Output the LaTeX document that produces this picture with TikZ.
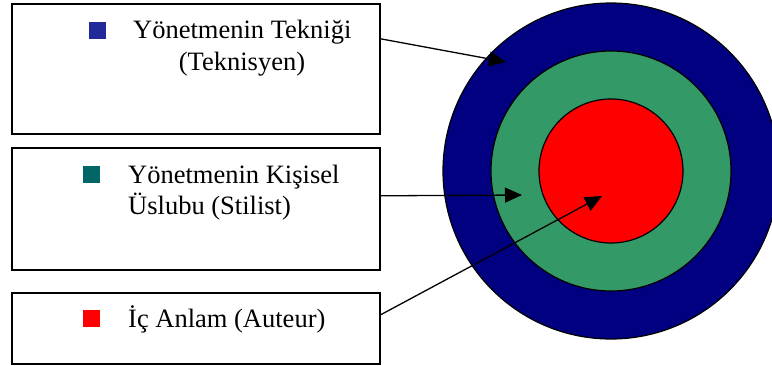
\documentclass[tikz,border=0pt]{standalone}
\usepackage{fontspec}
\setmainfont{Liberation Serif}
\usetikzlibrary{arrows.meta}
\definecolor{ringblue}{HTML}{000080}
\definecolor{ringgreen}{HTML}{339966}
\definecolor{ringred}{HTML}{FF0000}
\definecolor{mkblue}{HTML}{222A99}
\definecolor{mkteal}{HTML}{006666}
\definecolor{mkred}{HTML}{FF0000}
\tikzset{
  box/.style={draw, line width=1.6pt, minimum width=368pt, inner sep=0pt, anchor=north west},
  ring/.style={draw, line width=1.2pt, circle, inner sep=0pt},
  marker/.style={minimum size=17pt, inner sep=0pt, anchor=north west},
  lbl/.style={inner sep=0pt, anchor=base west, font=\fontsize{26.5}{31}\selectfont},
  conn/.style={line width=1.3pt, -{Triangle[length=17pt,width=15pt]}},
}
\begin{document}
\begin{tikzpicture}[x=1pt,y=-1pt]
\useasboundingbox (0,0) rectangle (772,365);
% rings
\node[ring, fill=ringblue, minimum size=336pt] (outer) at (611,171) {};
\node[ring, fill=ringgreen, minimum size=240pt] (middle) at (611,171) {};
\node[ring, fill=ringred, minimum size=144pt] (inner) at (611,171) {};
% boxes
\node[box, minimum height=130pt] (b1) at (11,3) {};
\node[box, minimum height=122pt] (b2) at (11,147) {};
\node[box, minimum height=71pt] (b3) at (11,292) {};
% markers
\node[marker, fill=mkblue] (m1) at (89,22) {};
\node[marker, fill=mkteal] (m2) at (83,166) {};
\node[marker, fill=mkred] (m3) at (83,310) {};
% labels
\node[lbl] (t1a) at (133,38) {Yönetmenin Tekniği};
\node[lbl, anchor=base] (t1b) at (242,70) {(Teknisyen)};
\node[lbl] (t2a) at (128,183) {Yönetmenin Kişisel};
\node[lbl] (t2b) at (128,214) {Üslubu (Stilist)};
\node[lbl] (t3) at (128,327) {İç Anlam (Auteur)};
% arrow tips
\coordinate (p1) at (506,62);
\coordinate (p2) at (522,195);
\coordinate (p3) at (602,196);
% connectors
\draw[conn] ([yshift=30pt]b1.east) -- (p1);
\draw[conn] ([yshift=13pt]b2.east) -- (p2);
\draw[conn] ([yshift=13.5pt]b3.east) -- (p3);
\end{tikzpicture}
\end{document}
